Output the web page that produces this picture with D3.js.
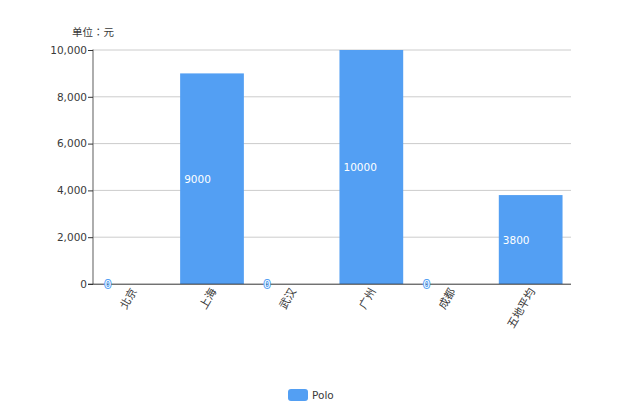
<!DOCTYPE html>
<html><head><meta charset="utf-8">
<style>html,body{margin:0;padding:0;background:#fff}svg{display:block}
text{font-family:"DejaVu Sans","Noto Sans CJK TC",sans-serif}</style>
<script src="https://cdn.jsdelivr.net/npm/d3@7"></script></head><body>
<svg id="c" width="620" height="413"></svg>
<script>
const categories=["北京","上海","武汉","广州","成都","五地平均"];
const polo=[0,9000,0,10000,0,3800];
const yTicks=[0,2000,4000,6000,8000,10000];
const seriesName="Polo";
const unitLabel="单位：元";
const blue="#539ff3", ink="#3a3a3a";
const svg=d3.select("#c");
const x=d3.scaleBand().domain(categories).range([92.5,570.5]).paddingInner(0.2).paddingOuter(0.1);
const y=d3.scaleLinear().domain([0,10000]).range([284,50]);
svg.append("g").selectAll("line").data(yTicks.filter(d=>d>0)).join("line")
 .attr("x1",93).attr("x2",571).attr("y1",d=>y(d)).attr("y2",d=>y(d))
 .attr("stroke","#ccc").attr("stroke-width",1);
svg.append("g").selectAll("rect").data(polo).join("rect")
 .attr("x",(d,i)=>x(categories[i])).attr("width",x.bandwidth())
 .attr("y",d=>y(d)).attr("height",d=>y(0)-y(d)).attr("fill",blue);
const yAxis=d3.axisLeft(y).tickValues(yTicks).tickFormat(d3.format(",")).tickSize(5).tickPadding(1);
const gy=svg.append("g").attr("transform","translate(93,0)").call(yAxis);
gy.selectAll("text").attr("font-size",10.5).attr("fill",ink);
gy.select(".domain").attr("stroke","#777").attr("stroke-width",1.2).attr("d","M0,49.5V284");
gy.selectAll("line").attr("stroke","#333");
svg.append("line").attr("x1",88).attr("x2",571).attr("y1",284.2).attr("y2",284.2).attr("stroke","#333");
svg.append("g").selectAll("text").data(categories).join("text")
 .attr("text-anchor","end").attr("font-size",11).attr("fill",ink)
 .attr("transform",d=>`translate(${x(d)+x.bandwidth()/2+1.5},${289}) rotate(-60)`)
 .attr("dy","0.35em").text(d=>d);
svg.append("g").selectAll("text").data(polo).join("text")
 .attr("x",(d,i)=>x(categories[i])+4).attr("y",d=>(y(d)+y(0))/2+.5)
 .attr("dy","0.36em").attr("font-size",10.5).attr("fill","#fff")
 .attr("stroke",d=>d===0?blue:"none").attr("stroke-width",d=>d===0?2:0).attr("paint-order","stroke")
 .text(d=>d);
svg.append("text").attr("x",72).attr("y",36).attr("font-size",10.5).attr("fill",ink).text(unitLabel);
svg.append("rect").attr("x",288).attr("y",389).attr("width",20).attr("height",12).attr("rx",3).attr("fill",blue);
svg.append("text").attr("x",312).attr("y",399).attr("font-size",10.5).attr("fill",ink).text(seriesName);
</script></body></html>
